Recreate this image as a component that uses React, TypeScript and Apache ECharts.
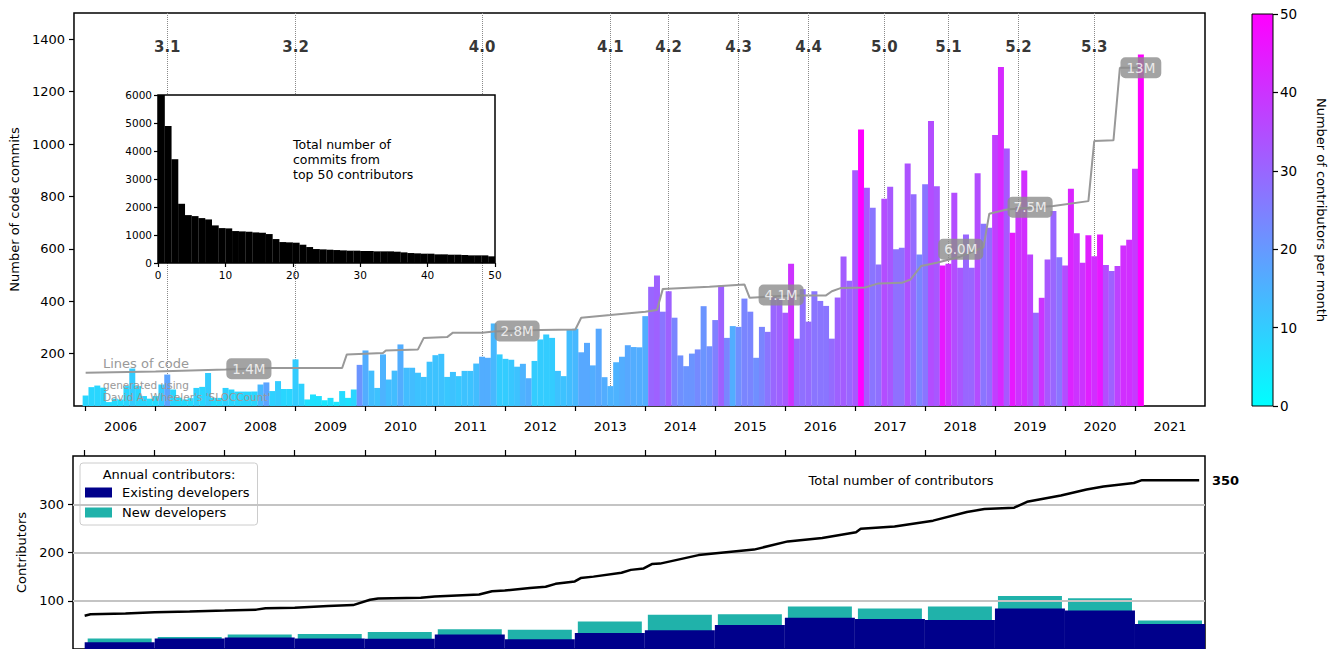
import React, { useEffect, useRef } from 'react';
import * as echarts from 'echarts';

const FONT = 'DejaVu Sans';

// Years on the time axis (one tick per January)
const years = [2006, 2007, 2008, 2009, 2010, 2011, 2012, 2013, 2014, 2015, 2016, 2017, 2018, 2019, 2020, 2021];

// Monthly code commits, starting January 2006 (one value per month)
const commits = [
  40, 72, 78, 70, 15, 28, 25, 76, 143, 76, 38, 28,
  38, 82, 120, 63, 32, 25, 30, 69, 73, 126, 31, 31,
  69, 63, 55, 55, 55, 55, 82, 90, 57, 95, 65, 65,
  178, 85, 25, 44, 38, 22, 31, 16, 57, 31, 63, 157,
  212, 135, 69, 197, 101, 135, 235, 146, 146, 127, 111, 169,
  194, 199, 111, 130, 114, 134, 134, 162, 188, 184, 315, 197,
  180, 177, 150, 161, 106, 172, 254, 273, 260, 134, 114, 292,
  295, 205, 241, 155, 295, 110, 76, 167, 188, 232, 225, 224,
  343, 455, 498, 360, 438, 337, 193, 152, 200, 216, 381, 228,
  328, 460, 260, 305, 302, 410, 360, 184, 302, 283, 420, 410,
  356, 543, 257, 446, 322, 438, 401, 382, 257, 414, 571, 478,
  900, 1055, 833, 757, 540, 791, 837, 598, 604, 926, 808, 578,
  846, 1088, 839, 536, 543, 814, 528, 655, 528, 888, 696, 680,
  1034, 1294, 983, 661, 760, 899, 578, 356, 413, 559, 744, 568,
  536, 829, 659, 547, 652, 572, 655, 538, 515, 534, 613, 635,
  906, 1342,
];

// Number of contributors per month (colour of each monthly bar)
const contributorsPerMonth = [
  8, 8, 8, 8, 7, 7, 7, 8, 10, 8, 8, 7,
  7, 10, 18, 8, 7, 7, 7, 9, 8, 10, 7, 7,
  9, 8, 8, 8, 8, 8, 14, 18, 9, 10, 8, 8,
  10, 9, 6, 6, 6, 5, 6, 5, 7, 6, 8, 21,
  16, 13, 12, 15, 13, 13, 16, 13, 13, 12, 12, 12,
  12, 12, 11, 12, 11, 12, 12, 13, 16, 16, 14, 10,
  10, 11, 12, 15, 16, 10, 10, 10, 10, 12, 12, 13,
  14, 17, 17, 16, 17, 16, 15, 15, 16, 17, 16, 16,
  16, 30, 31, 27, 31, 24, 22, 21, 21, 23, 21, 22,
  25, 31, 24, 16, 22, 24, 24, 22, 24, 27, 30, 31,
  33, 40, 30, 28, 29, 27, 27, 27, 29, 31, 32, 30,
  33, 50, 33, 27, 28, 35, 33, 28, 28, 34, 29, 24,
  27, 35, 33, 45, 40, 35, 33, 30, 30, 35, 27, 29,
  38, 42, 33, 45, 40, 41, 37, 30, 40, 33, 30, 27,
  35, 43, 40, 40, 44, 41, 45, 35, 31, 37, 41, 41,
  39, 50,
];

// Releases: name and month index (months since January 2006)
const releaseNames = ['3.1', '3.2', '4.0', '4.1', '4.2', '4.3', '4.4', '5.0', '5.1', '5.2', '5.3'];
const releaseMonths = [14, 36, 68, 90, 100, 112, 124, 137, 148, 160, 173];

// Lines of code (millions) at month index
const locPoints = [
  [0, 1.27], [12, 1.32], [24, 1.39], [32, 1.45], [44, 1.45], [44.8, 1.97], [51, 2.02], [51.5, 2.12],
  [57, 2.16], [58, 2.6], [62, 2.63], [63, 2.8], [68, 2.8], [70, 2.84], [78, 2.9], [84, 2.92],
  [85, 3.37], [90, 3.47], [96, 3.6], [98, 3.66], [99, 4.47], [107, 4.55], [113, 4.64], [113.9, 4.13],
  [119, 4.2], [123, 4.22], [127, 4.22], [128, 4.38], [129.5, 4.5], [133.7, 4.52], [136, 4.68],
  [140, 4.7], [141.5, 4.83], [143.3, 5.34], [146, 5.47], [150, 5.7], [154, 6.06], [155, 7.34],
  [158, 7.5], [166, 7.63], [172, 7.82], [173, 10.11], [176.3, 10.14], [177.4, 12.91], [181, 12.91],
];
const locLabels = ['1.4M', '2.8M', '4.1M', '6.0M', '7.5M', '13M'];
const locLabelMonths = [28, 74, 119.3, 150.1, 162, 181];
const locLabelValues = [1.42, 2.86, 4.24, 5.98, 7.59, 12.91];

// Inset: total commits of the top 50 contributors
const top50Commits = [
  6900, 4895, 3707, 2115, 1711, 1675, 1604, 1556, 1343, 1247,
  1236, 1141, 1129, 1117, 1093, 1081, 1034, 855, 748, 737,
  725, 653, 570, 499, 487, 475, 463, 451, 440, 440,
  428, 428, 416, 416, 416, 404, 380, 356, 345, 333,
  333, 309, 309, 297, 297, 285, 273, 273, 273, 238,
];

// Annual contributors
const existingDevs = [14, 22, 24, 22, 21, 30, 20, 33, 39, 50, 65, 62, 60, 84, 80, 52];
const newDevs = [8, 3, 6, 9, 14, 11, 20, 24, 32, 22, 23, 22, 28, 26, 25, 7];

// Cumulative total number of contributors at month index
const totalContributors = [
  [0, 69], [1, 72], [7, 73.5], [12, 76], [18, 77.6], [24, 79.6], [29.4, 81.6], [31, 84.4], [36, 85.7],
  [41.7, 89], [46, 91], [48.9, 102], [50.3, 104.8], [57.6, 106], [60, 108.8], [67.6, 113], [69.8, 119.7],
  [72, 121], [76.3, 126.5], [79, 129], [80.7, 135], [84, 140], [85, 147], [87.2, 150], [92, 158],
  [93.6, 164], [95.8, 167], [97.2, 176], [98.6, 177], [105.2, 194.6], [109.5, 200], [114.7, 206],
  [120.5, 223], [126.4, 230], [132.2, 242], [133, 249], [138.8, 254], [145.4, 266], [151.2, 284],
  [154.2, 290], [159.3, 293], [161.5, 305], [167.3, 318], [171.7, 330.6], [174.6, 337], [179.8, 344],
  [181.2, 350], [191, 350],
];

function coolColor(v: number) {
  const t = Math.max(0, Math.min(1, v / 50));
  const r = Math.round(255 * t);
  const g = Math.round(255 * (1 - t));
  return `rgb(${r},${g},255)`;
}

const plain = (v: number) => String(v);

export default function App() {
  const ref = useRef<HTMLDivElement>(null);

  useEffect(() => {
    if (!ref.current) return;
    const chart = echarts.init(ref.current, null, { renderer: 'svg' });

    const yearStarts = years.map((_, i) => i * 12);
    const yearMids = years.map((_, i) => i * 12 + 6);
    const tickStyle = { color: '#000', width: 1.2 };
    const noLine = { show: false, onZero: false };

    const option: any = {
      animation: false,
      textStyle: { fontFamily: FONT, color: '#000' },
      grid: [
        { left: 73, top: 13, width: 1132, height: 393, show: true, borderColor: '#000', borderWidth: 1.5, backgroundColor: 'transparent' },
        { left: 158, top: 95, width: 337, height: 168, show: true, borderColor: '#000', borderWidth: 1.5, backgroundColor: '#fff', z: 5 },
        { left: 1252, top: 14, width: 23, height: 392, show: true, borderColor: '#000', borderWidth: 1, backgroundColor: 'transparent', z: 3 },
        { left: 73, top: 456, width: 1132, height: 196, show: true, borderColor: '#000', borderWidth: 1.5, backgroundColor: 'transparent' },
      ],
      xAxis: [
        {
          type: 'value', gridIndex: 0, min: -2, max: 192,
          axisLine: noLine, splitLine: { show: false },
          axisTick: { show: true, length: 5, lineStyle: tickStyle, customValues: yearStarts },
          axisLabel: {
            customValues: yearMids, fontSize: 13, color: '#000', margin: 14, fontFamily: FONT,
            formatter: (v: number) => String(years[0] + Math.round((v - 6) / 12)),
          },
        },
        {
          type: 'value', gridIndex: 1, min: 0, max: 50, interval: 10, z: 6,
          axisLine: noLine, splitLine: { show: false },
          axisTick: { show: true, length: 4, lineStyle: tickStyle },
          axisLabel: { fontSize: 10.5, color: '#000', margin: 6, fontFamily: FONT, formatter: plain },
        },
        { type: 'category', gridIndex: 2, data: [''], show: false },
        {
          type: 'value', gridIndex: 3, min: -2, max: 192, position: 'top',
          axisLine: noLine, splitLine: { show: false },
          axisTick: { show: true, length: 6, lineStyle: tickStyle, customValues: yearStarts },
          axisLabel: { show: false },
        },
        { type: 'value', gridIndex: 3, min: -2, max: 192, position: 'bottom', show: false, axisLine: noLine },
      ],
      yAxis: [
        {
          type: 'value', gridIndex: 0, min: 0, max: 1500,
          axisLine: noLine, splitLine: { show: false },
          axisTick: { show: true, length: 5, lineStyle: tickStyle, customValues: [200, 400, 600, 800, 1000, 1200, 1400] },
          axisLabel: { customValues: [200, 400, 600, 800, 1000, 1200, 1400], fontSize: 13, color: '#000', margin: 9, fontFamily: FONT, formatter: plain },
          name: 'Number of code commits', nameLocation: 'middle', nameGap: 48,
          nameTextStyle: { fontSize: 13, color: '#000', fontFamily: FONT },
        },
        { type: 'value', gridIndex: 0, min: 0, max: 15, show: false, axisLine: noLine },
        {
          type: 'value', gridIndex: 1, min: 0, max: 6000, interval: 1000, z: 6,
          axisLine: noLine, splitLine: { show: false },
          axisTick: { show: true, length: 4, lineStyle: tickStyle },
          axisLabel: { fontSize: 10.5, color: '#000', margin: 6, fontFamily: FONT, formatter: plain },
        },
        {
          type: 'value', gridIndex: 2, min: 0, max: 50, interval: 10, position: 'right',
          axisLine: noLine, splitLine: { show: false },
          axisTick: { show: true, length: 5, lineStyle: tickStyle },
          axisLabel: { fontSize: 13.5, color: '#000', margin: 7, fontFamily: FONT, formatter: plain },
          name: 'Number of contributors per month', nameLocation: 'middle', nameRotate: -90, nameGap: 42,
          nameTextStyle: { fontSize: 13, color: '#000', fontFamily: FONT },
        },
        {
          type: 'value', gridIndex: 3, min: 0, max: 400,
          axisLine: noLine, splitLine: { show: false },
          axisTick: { show: true, length: 5, lineStyle: tickStyle, customValues: [100, 200, 300] },
          axisLabel: { customValues: [100, 200, 300], fontSize: 13, color: '#000', margin: 9, fontFamily: FONT, formatter: plain },
          name: 'Contributors', nameLocation: 'middle', nameGap: 41,
          nameTextStyle: { fontSize: 13, color: '#000', fontFamily: FONT },
        },
      ],
      legend: {
        data: ['Existing developers', 'New developers'],
        orient: 'vertical', left: 80, top: 463,
        itemWidth: 27, itemHeight: 10, itemGap: 7,
        padding: [23, 8, 6, 5],
        borderColor: '#cccccc', borderWidth: 1, borderRadius: 3, backgroundColor: '#fff',
        icon: 'rect', selectedMode: false,
        textStyle: { fontSize: 13, color: '#000', fontFamily: FONT, padding: [0, 0, 0, 5] },
      },
      series: [
        {
          type: 'scatter', name: 'Releases', xAxisIndex: 0, yAxisIndex: 0, z: 1,
          symbolSize: 0, silent: true,
          data: releaseNames.map((n, i) => [releaseMonths[i], 1372, n]),
          label: {
            show: true, position: 'inside', formatter: (p: any) => p.data[2],
            fontWeight: 'bold', fontSize: 15, color: '#000', fontFamily: FONT,
          },
          markLine: {
            z: 1, silent: true, symbol: 'none', animation: false,
            label: { show: false },
            lineStyle: { type: 'dotted', color: '#8a8a8a', width: 1 },
            data: releaseMonths.map((m) => ({ xAxis: m })),
          },
        },
        {
          type: 'bar', name: 'Commits', xAxisIndex: 0, yAxisIndex: 0, z: 2,
          barWidth: 6,
          data: commits.map((c, i) => [i, c, contributorsPerMonth[i]]),
          itemStyle: { color: (p: any) => coolColor(p.data[2]) },
        },
        {
          type: 'line', name: 'Lines of code', xAxisIndex: 0, yAxisIndex: 1, z: 3,
          symbol: 'none', silent: true, data: locPoints,
          lineStyle: { color: '#999999', width: 2 },
        },
        {
          type: 'scatter', name: 'LOC labels', xAxisIndex: 0, yAxisIndex: 1, z: 4,
          symbolSize: 0, silent: true,
          data: locLabels.map((t, i) => [locLabelMonths[i], locLabelValues[i], t]),
          label: {
            show: true, position: 'inside', formatter: (p: any) => p.data[2],
            color: '#ffffff', fontSize: 13.5, fontFamily: FONT,
            backgroundColor: '#8c8c8c', borderRadius: 5, padding: [4, 6, 3, 6],
          },
        },
        {
          type: 'bar', name: 'Top 50', xAxisIndex: 1, yAxisIndex: 2, z: 6,
          barWidth: 6.9,
          data: top50Commits.map((v, i) => [i + 0.5, v]),
          itemStyle: { color: '#000' },
        },
        {
          type: 'bar', name: 'Colorbar', xAxisIndex: 2, yAxisIndex: 3, silent: true,
          barWidth: '100%', data: [50],
          itemStyle: {
            color: new echarts.graphic.LinearGradient(0, 0, 0, 1, [
              { offset: 0, color: '#ff00ff' },
              { offset: 1, color: '#00ffff' },
            ]),
          },
        },
        {
          type: 'bar', name: 'New developers', xAxisIndex: 4, yAxisIndex: 4, z: 2,
          barWidth: 64,
          data: years.map((_, i) => [i * 12 + 6, existingDevs[i] + newDevs[i]]),
          itemStyle: { color: '#20b2aa' },
        },
        {
          type: 'bar', name: 'Existing developers', xAxisIndex: 3, yAxisIndex: 4, z: 3,
          barWidth: 70,
          data: years.map((_, i) => [i * 12 + 6, existingDevs[i]]),
          itemStyle: { color: '#00008b' },
        },
        {
          type: 'line', name: 'Total number of contributors', xAxisIndex: 3, yAxisIndex: 4, z: 6,
          symbol: 'none', silent: true, data: totalContributors,
          lineStyle: { color: '#000', width: 2.5 },
          markLine: {
            z: 5, silent: true, symbol: 'none', animation: false,
            label: { show: false },
            lineStyle: { color: '#c4c4c4', width: 2, type: 'solid' },
            data: [{ yAxis: 100 }, { yAxis: 200 }, { yAxis: 300 }],
          },
        },
      ],
      graphic: [
        { type: 'text', x: 103, y: 363, z: 10, silent: true, style: { text: 'Lines of code', fill: '#999999', fontSize: 13, fontFamily: FONT, verticalAlign: 'middle' } },
        { type: 'text', x: 103, y: 385, z: 10, silent: true, style: { text: 'generated using', fill: '#999999', fontSize: 10.5, fontFamily: FONT, verticalAlign: 'middle' } },
        { type: 'text', x: 103, y: 397, z: 10, silent: true, style: { text: "David A. Wheeler's 'SLOCCount'", fill: '#999999', fontSize: 10.5, fontFamily: FONT, verticalAlign: 'middle' } },
        { type: 'text', x: 293, y: 137, z: 10, silent: true, style: { text: 'Total number of\ncommits from\ntop 50 contributors', fill: '#000', fontSize: 12.5, lineHeight: 15, fontFamily: FONT, verticalAlign: 'top' } },
        { type: 'text', x: 169, y: 474, z: 10, silent: true, style: { text: 'Annual contributors:', fill: '#000', fontSize: 13, fontFamily: FONT, align: 'center', verticalAlign: 'middle' } },
        { type: 'text', x: 901, y: 480, z: 10, silent: true, style: { text: 'Total number of contributors', fill: '#000', fontSize: 13, fontFamily: FONT, align: 'center', verticalAlign: 'middle' } },
        { type: 'text', x: 1212, y: 480, z: 10, silent: true, style: { text: '350', fill: '#000', fontSize: 13, fontWeight: 'bold', fontFamily: FONT, verticalAlign: 'middle' } },
      ],
    };

    chart.setOption(option);
    return () => chart.dispose();
  }, []);

  return (
    <div
      ref={ref}
      style={{ position: 'absolute', left: 0, top: 0, width: 1329, height: 649, background: '#fff' }}
    />
  );
}
